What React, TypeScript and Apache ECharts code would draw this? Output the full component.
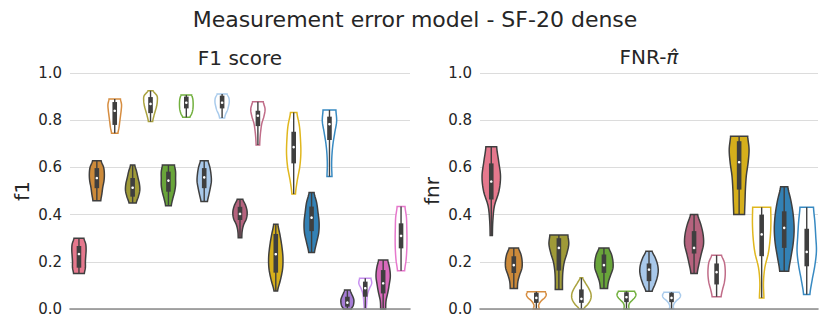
import React, { useEffect, useRef } from "react";
import * as echarts from "echarts";

// ---------- data ----------
const PALETTE = [
  "#e5788d", // pink
  "#cc8a3a", // orange
  "#9f9a38", // olive
  "#69a53a", // green
  "#a8c8ea", // light blue
  "#b5637e", // mauve
  "#d5af1c", // gold
  "#3381b5", // blue
  "#a67cd6", // purple
  "#d96abb", // magenta
];
const HOLLOW_EDGE = [
  "#e5788d",
  "#d68d40",
  "#aaa23e",
  "#72b03e",
  "#a9cbec",
  "#c06c88",
  "#e0b71e",
  "#388ac2",
  "#c890f0",
  "#e678cc",
];

const f1Categories = [
  "g1", "g2a", "g2b", "g3a", "g3b", "g4a", "g4b", "g5a", "g5b", "g6a",
  "g6b", "g7a", "g7b", "g8a", "g8b", "g9a", "g9b", "g10a", "g10b",
];
const f1ColorIdx = [0, 1, 1, 2, 2, 3, 3, 4, 4, 5, 5, 6, 6, 7, 7, 8, 8, 9, 9];
const f1Hollow = [false, false, true, false, true, false, true, false, true, false, true, false, true, false, true, false, true, false, true];
const f1Min = [0.15, 0.459, 0.745, 0.449, 0.794, 0.438, 0.812, 0.455, 0.809, 0.302, 0.695, 0.076, 0.487, 0.239, 0.561, 0.0, 0.004, 0.0, 0.162];
const f1Q1 = [0.175, 0.512, 0.78, 0.476, 0.83, 0.497, 0.85, 0.512, 0.85, 0.377, 0.775, 0.154, 0.617, 0.33, 0.716, 0.01, 0.052, 0.066, 0.257];
const f1Median = [0.233, 0.555, 0.84, 0.514, 0.869, 0.544, 0.874, 0.558, 0.874, 0.403, 0.819, 0.232, 0.686, 0.387, 0.783, 0.027, 0.088, 0.109, 0.31];
const f1Q3 = [0.267, 0.597, 0.877, 0.555, 0.898, 0.582, 0.9, 0.597, 0.904, 0.433, 0.84, 0.318, 0.751, 0.434, 0.815, 0.052, 0.116, 0.165, 0.363];
const f1Max = [0.3, 0.628, 0.89, 0.61, 0.925, 0.61, 0.907, 0.628, 0.911, 0.465, 0.878, 0.359, 0.833, 0.494, 0.843, 0.08, 0.13, 0.208, 0.434];
// half-widths (fraction of category slot) from bottom (min) to top (max)
const f1Shape = [
  [0.30, 0.36, 0.36, 0.38, 0.40, 0.38, 0.28],
  [0.22, 0.28, 0.33, 0.40, 0.42, 0.38, 0.24],
  [0.18, 0.24, 0.28, 0.32, 0.36, 0.38, 0.32],
  [0.20, 0.32, 0.40, 0.38, 0.30, 0.22, 0.12],
  [0.12, 0.18, 0.26, 0.34, 0.38, 0.36, 0.14],
  [0.16, 0.24, 0.34, 0.40, 0.40, 0.40, 0.34],
  [0.20, 0.30, 0.36, 0.38, 0.38, 0.36, 0.30],
  [0.18, 0.26, 0.34, 0.40, 0.38, 0.32, 0.22],
  [0.14, 0.20, 0.30, 0.36, 0.40, 0.38, 0.28],
  [0.10, 0.12, 0.20, 0.36, 0.40, 0.32, 0.16],
  [0.10, 0.12, 0.16, 0.22, 0.34, 0.40, 0.30],
  [0.10, 0.26, 0.38, 0.40, 0.34, 0.24, 0.12],
  [0.10, 0.20, 0.34, 0.40, 0.38, 0.32, 0.18],
  [0.16, 0.28, 0.40, 0.42, 0.36, 0.28, 0.14],
  [0.14, 0.12, 0.14, 0.20, 0.30, 0.40, 0.36],
  [0.22, 0.32, 0.36, 0.36, 0.30, 0.22, 0.16],
  [0.06, 0.08, 0.10, 0.14, 0.24, 0.36, 0.32],
  [0.14, 0.16, 0.26, 0.34, 0.40, 0.36, 0.26],
  [0.20, 0.28, 0.32, 0.33, 0.32, 0.30, 0.22],
];

const fnrCategories = [
  "g1", "g2a", "g2b", "g3a", "g3b", "g4a", "g4b", "g5a", "g5b", "g6a",
  "g6b", "g7a", "g7b", "g8a", "g8b",
];
const fnrColorIdx = [0, 1, 1, 2, 2, 3, 3, 4, 4, 5, 5, 6, 6, 7, 7];
const fnrHollow = [false, false, true, false, true, false, true, false, true, false, true, false, true, false, true];
const fnrMin = [0.311, 0.087, 0.0, 0.083, 0.0, 0.087, 0.0, 0.075, 0.0, 0.15, 0.052, 0.4, 0.047, 0.16, 0.061];
const fnrQ1 = [0.464, 0.153, 0.026, 0.163, 0.026, 0.153, 0.029, 0.118, 0.029, 0.235, 0.104, 0.506, 0.224, 0.259, 0.181];
const fnrMedian = [0.54, 0.186, 0.047, 0.259, 0.043, 0.186, 0.05, 0.167, 0.047, 0.259, 0.156, 0.622, 0.316, 0.344, 0.242];
const fnrQ3 = [0.617, 0.224, 0.069, 0.3, 0.083, 0.231, 0.071, 0.193, 0.069, 0.33, 0.193, 0.711, 0.4, 0.414, 0.34];
const fnrMax = [0.687, 0.259, 0.073, 0.314, 0.132, 0.259, 0.075, 0.245, 0.071, 0.4, 0.228, 0.732, 0.431, 0.518, 0.431];
const fnrShape = [
  [0.05, 0.07, 0.14, 0.34, 0.41, 0.33, 0.24],
  [0.16, 0.18, 0.26, 0.36, 0.37, 0.32, 0.21],
  [0.14, 0.10, 0.14, 0.24, 0.38, 0.44, 0.40],
  [0.16, 0.16, 0.18, 0.24, 0.36, 0.44, 0.40],
  [0.10, 0.30, 0.42, 0.42, 0.32, 0.18, 0.06],
  [0.16, 0.20, 0.30, 0.40, 0.40, 0.34, 0.22],
  [0.12, 0.10, 0.14, 0.26, 0.38, 0.42, 0.36],
  [0.14, 0.26, 0.36, 0.41, 0.38, 0.28, 0.14],
  [0.10, 0.08, 0.12, 0.22, 0.36, 0.40, 0.34],
  [0.14, 0.22, 0.32, 0.42, 0.40, 0.30, 0.16],
  [0.20, 0.26, 0.34, 0.38, 0.38, 0.34, 0.22],
  [0.24, 0.26, 0.28, 0.32, 0.40, 0.44, 0.38],
  [0.10, 0.08, 0.14, 0.30, 0.38, 0.41, 0.40],
  [0.20, 0.30, 0.40, 0.44, 0.40, 0.30, 0.16],
  [0.14, 0.24, 0.36, 0.43, 0.40, 0.36, 0.30],
];

const yTicks = [0, 0.2, 0.4, 0.6, 0.8, 1.0];

// ---------- helpers ----------
const FONT = "DejaVu Sans";
const TEXT = "#262626";
const EDGE = "#3f3f3f";

function catmull(p: number[], u: number): number {
  const n = p.length;
  const k = Math.min(Math.floor(u), n - 2);
  const t = u - k;
  const p0 = p[Math.max(k - 1, 0)];
  const p1 = p[k];
  const p2 = p[k + 1];
  const p3 = p[Math.min(k + 2, n - 1)];
  const t2 = t * t;
  const t3 = t2 * t;
  return 0.5 * (2 * p1 + (-p0 + p2) * t + (2 * p0 - 5 * p1 + 4 * p2 - p3) * t2 + (-p0 + 3 * p1 - 3 * p2 + p3) * t3);
}

function makeRender(shapes: number[][], colorIdx: number[], hollow: boolean[]) {
  return (params: any, api: any) => {
    const i = params.dataIndex;
    const cat = api.value(0);
    const vmin = api.value(1);
    const q1 = api.value(2);
    const med = api.value(3);
    const q3 = api.value(4);
    const vmax = api.value(5);
    const cx = api.coord([cat, 0])[0];
    const slot = api.size([1, 0])[0];
    const prof = shapes[i];
    const m = 48;
    const left: number[][] = [];
    const right: number[][] = [];
    for (let s = 0; s <= m; s++) {
      const t = s / m;
      const v = vmin + t * (vmax - vmin);
      const y = api.coord([cat, v])[1];
      const hw = Math.max(0.02, catmull(prof, t * (prof.length - 1))) * slot;
      left.push([cx - hw, y]);
      right.push([cx + hw, y]);
    }
    const pts = left.concat(right.reverse());
    const isHollow = hollow[i];
    const ci = colorIdx[i];
    const yMin = api.coord([cat, vmin])[1];
    const yMax = api.coord([cat, vmax])[1];
    const yQ1 = api.coord([cat, q1])[1];
    const yQ3 = api.coord([cat, q3])[1];
    const yMed = api.coord([cat, med])[1];
    const bw = 4.6;
    return {
      type: "group",
      children: [
        {
          type: "polygon",
          shape: { points: pts },
          style: {
            fill: isHollow ? "#ffffff" : PALETTE[ci],
            stroke: isHollow ? HOLLOW_EDGE[ci] : EDGE,
            lineWidth: 1.5,
          },
        },
        {
          type: "line",
          shape: { x1: cx, y1: yMin, x2: cx, y2: yMax },
          style: { stroke: EDGE, lineWidth: 1.4 },
        },
        {
          type: "rect",
          shape: { x: cx - bw / 2, y: yQ3, width: bw, height: yQ1 - yQ3 },
          style: { fill: EDGE },
        },
        {
          type: "circle",
          shape: { cx: cx, cy: yMed, r: 1.3 },
          style: { fill: "#ffffff" },
        },
      ],
    };
  };
}

function makeData(mins: number[], q1: number[], med: number[], q3: number[], maxs: number[]) {
  return mins.map((v, i) => [i, v, q1[i], med[i], q3[i], maxs[i]]);
}

const yAxisBase = (name: string, gridIndex: number) => ({
  type: "value",
  gridIndex,
  min: 0,
  max: 1,
  interval: 0.2,
  name,
  nameLocation: "middle",
  nameGap: 38,
  nameTextStyle: { fontFamily: FONT, fontSize: 20, color: TEXT },
  axisLine: { show: false },
  axisTick: { show: false },
  axisLabel: {
    fontFamily: FONT,
    fontSize: 15,
    color: TEXT,
    margin: 8,
    formatter: (v: number) => (yTicks.indexOf(Math.round(v * 10) / 10) >= 0 ? v.toFixed(1) : ""),
  },
  splitLine: { show: true, lineStyle: { color: "#dcdcdc", width: 1 } },
});

const xAxisBase = (cats: string[], gridIndex: number) => ({
  type: "category",
  gridIndex,
  data: cats,
  boundaryGap: true,
  axisLine: { show: true, lineStyle: { color: "#8a8a8a", width: 1.6 } },
  axisTick: { show: false },
  axisLabel: { show: false },
  splitLine: { show: false },
  z: 5,
});

export default function App() {
  const ref = useRef<HTMLDivElement>(null);
  useEffect(() => {
    if (!ref.current) return;
    const chart = echarts.init(ref.current, undefined, { renderer: "svg" });
    chart.setOption({
      animation: false,
      backgroundColor: "#ffffff",
      title: {
        text: "Measurement error model - SF-20 dense",
        left: "center",
        top: 3,
        textStyle: { fontFamily: FONT, fontSize: 22, fontWeight: "normal", color: TEXT },
      },
      graphic: [
        {
          type: "text",
          x: 240,
          y: 58,
          style: { text: "F1 score", fontFamily: FONT, fontSize: 20, fill: TEXT, align: "center", verticalAlign: "middle" },
        },
        {
          type: "text",
          x: 649,
          y: 57,
          style: {
            text: "{a|FNR-}{b|π\u0302}",
            fontFamily: FONT,
            fontSize: 20,
            fill: TEXT,
            align: "center",
            verticalAlign: "middle",
            rich: {
              a: { fontFamily: FONT, fontSize: 20, fill: TEXT },
              b: { fontFamily: FONT, fontSize: 20, fill: TEXT, fontStyle: "italic" },
            },
          },
        },
      ],
      grid: [
        { left: 70, right: 420, top: 73, bottom: 23 },
        { left: 480, right: 12, top: 73, bottom: 23 },
      ],
      xAxis: [xAxisBase(f1Categories, 0), xAxisBase(fnrCategories, 1)],
      yAxis: [yAxisBase("f1", 0), yAxisBase("fnr", 1)],
      series: [
        {
          type: "custom",
          xAxisIndex: 0,
          yAxisIndex: 0,
          renderItem: makeRender(f1Shape, f1ColorIdx, f1Hollow),
          encode: { x: 0, y: [1, 5] },
          data: makeData(f1Min, f1Q1, f1Median, f1Q3, f1Max),
          clip: false,
        },
        {
          type: "custom",
          xAxisIndex: 1,
          yAxisIndex: 1,
          renderItem: makeRender(fnrShape, fnrColorIdx, fnrHollow),
          encode: { x: 0, y: [1, 5] },
          data: makeData(fnrMin, fnrQ1, fnrMedian, fnrQ3, fnrMax),
          clip: false,
        },
      ],
    });
    return () => chart.dispose();
  }, []);
  return <div ref={ref} style={{ width: 830, height: 332, margin: -8 }} />;
}
